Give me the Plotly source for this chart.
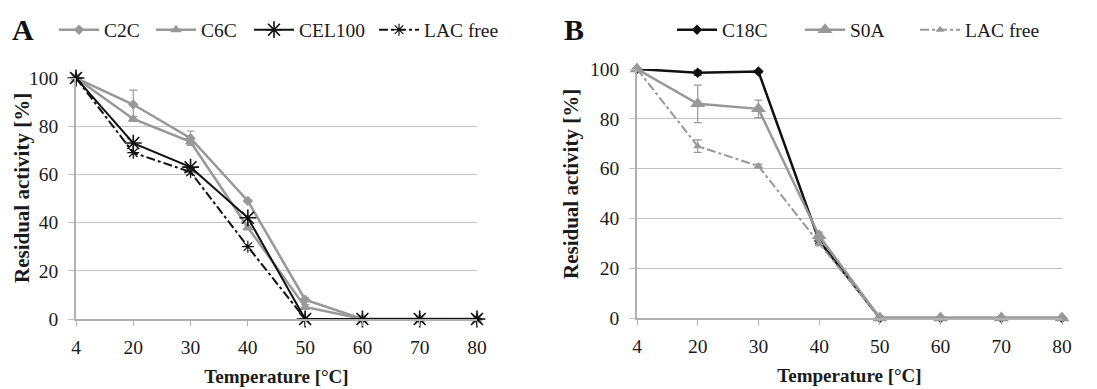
import plotly.graph_objects as go

temps = ["4", "20", "30", "40", "50", "60", "70", "80"]
idx = list(range(len(temps)))
yticks = [0, 20, 40, 60, 80, 100]

# Panel A
c2c = [100, 89, 75, 49, 8, 0, 0, 0]
c2c_err = [0, 6, 3, 0.5, 0.8, 0, 0, 0]
c6c = [100, 83, 73.5, 38, 5, 0, 0, 0]
c6c_err = [0, 1, 1, 1, 1, 0, 0, 0]
cel100 = [100, 73, 63, 42, 0, 0, 0, 0]
lacA = [100, 69, 61, 30, 0, 0, 0, 0]

# Panel B
c18c = [100, 98.5, 99, 31, 0, 0, 0, 0]
c18c_err = [0, 1, 0.5, 1, 0, 0, 0, 0]
s0a = [100, 86, 84, 33, 0, 0, 0, 0]
s0a_err = [0, 7.5, 3.5, 1.5, 0, 0, 0, 0]
lacB = [100, 69, 61, 30, 0, 0, 0, 0]
lacB_err = [0, 2.5, 0.8, 1, 0, 0, 0, 0]

GRAY = "#989898"
BLACK = "#111111"
FONT = "Liberation Serif, Times New Roman, serif"
TXT = "#1a1a1a"

fig = go.Figure()

def add(x, y, name, color, width, symbol, msize, dash="solid", err=None,
        xa="x", ya="y", legend="legend", mline=None, lw=None):
    marker = dict(symbol=symbol, size=msize, color=color)
    if mline:
        marker["line"] = dict(color=color, width=mline)
    kw = {}
    if err is not None:
        kw["error_y"] = dict(type="data", array=err, visible=True, color=color,
                             thickness=1.2, width=4)
    if lw is not None:
        kw["legendwidth"] = lw
    fig.add_trace(go.Scatter(x=x, y=y, name=name, mode="lines+markers",
                             line=dict(color=color, width=width, dash=dash),
                             marker=marker, xaxis=xa, yaxis=ya, legend=legend,
                             cliponaxis=False, **kw))

add(idx, c2c, "C2C", GRAY, 2.5, "diamond", 8, err=c2c_err, lw=42)
add(idx, c6c, "C6C", GRAY, 2.5, "triangle-up", 10, err=c6c_err, lw=43)
add(idx, cel100, "CEL100", BLACK, 2, "asterisk-open", 14, mline=1.6, lw=70)
add(idx, lacA, "LAC free", BLACK, 2, "asterisk-open", 10, dash="dashdot", mline=1.2, lw=80)

add(idx, c18c, "C18C", BLACK, 2.5, "diamond", 8, err=c18c_err, xa="x2", ya="y2",
    legend="legend2", lw=73)
add(idx, s0a, "S0A", GRAY, 2.5, "triangle-up", 13, err=s0a_err, xa="x2", ya="y2",
    legend="legend2", lw=60)
add(idx, lacB, "LAC free", GRAY, 2, "triangle-up", 8, dash="dashdot", err=lacB_err,
    xa="x2", ya="y2", legend="legend2", lw=80)

W, H = 1097, 389
def px(v):
    return v / W
def py(v):
    return 1 - v / H

xcommon = dict(tickmode="array", tickvals=idx, ticktext=temps, range=[0, 7],
               showgrid=False, showline=True, linecolor="#b0b0b0", linewidth=1.5,
               ticks="outside", ticklen=5, tickcolor="#b0b0b0", zeroline=False,
               automargin=False,
               tickfont=dict(family=FONT, size=19.5, color=TXT),
               ticklabelstandoff=5,
               title=dict(text="<b>Temperature [°C]</b>", standoff=13,
                          font=dict(family=FONT, size=19, color=TXT)))
ycommon = dict(tickmode="array", tickvals=yticks, range=[0, 100],
               showgrid=True, gridcolor="#c3c3c3", gridwidth=1,
               showline=True, linecolor="#b0b0b0", linewidth=1.5,
               ticks="outside", ticklen=6, tickcolor="#c3c3c3", zeroline=False,
               automargin=False,
               tickfont=dict(family=FONT, size=19.5, color=TXT),
               ticklabelstandoff=6)

ytitle = "<b>Residual activity [%]</b>"

fig.update_layout(
    width=W, height=H,
    margin=dict(l=0, r=0, t=0, b=0, autoexpand=False),
    plot_bgcolor="white", paper_bgcolor="white",
    font=dict(family=FONT, size=19.5, color=TXT),
    xaxis=dict(domain=[px(76), px(477)], anchor="y", **xcommon),
    yaxis=dict(domain=[py(319), py(78)], anchor="x", **ycommon),
    xaxis2=dict(domain=[px(637), px(1062)], anchor="y2", **xcommon),
    yaxis2=dict(domain=[py(318), py(69)], anchor="x2", **ycommon),
    legend=dict(orientation="h", x=px(54), y=py(30), xanchor="left", yanchor="middle",
                font=dict(family=FONT, size=19.5, color=TXT), bgcolor="rgba(0,0,0,0)",
                itemwidth=40, entrywidthmode="pixels"),
    legend2=dict(orientation="h", x=px(672), y=py(30), xanchor="left", yanchor="middle",
                 font=dict(family=FONT, size=19.5, color=TXT), bgcolor="rgba(0,0,0,0)",
                 itemwidth=40, entrywidthmode="pixels"),
    annotations=[
        dict(text="<b>A</b>", x=px(10), y=py(30), xref="paper", yref="paper",
             xanchor="left", yanchor="middle", showarrow=False,
             font=dict(family=FONT, size=30, color="#111")),
        dict(text="<b>B</b>", x=px(562), y=py(30), xref="paper", yref="paper",
             xanchor="left", yanchor="middle", showarrow=False,
             font=dict(family=FONT, size=30, color="#111")),
        dict(text=ytitle, x=px(22), y=py(188), xref="paper", yref="paper",
             xanchor="center", yanchor="middle", showarrow=False, textangle=-90,
             font=dict(family=FONT, size=21, color=TXT)),
        dict(text=ytitle, x=px(571), y=py(184), xref="paper", yref="paper",
             xanchor="center", yanchor="middle", showarrow=False, textangle=-90,
             font=dict(family=FONT, size=21, color=TXT)),
    ],
)

fig.write_html("out.html", config={"displayModeBar": False},
               post_script="document.body.style.margin='0px';")
